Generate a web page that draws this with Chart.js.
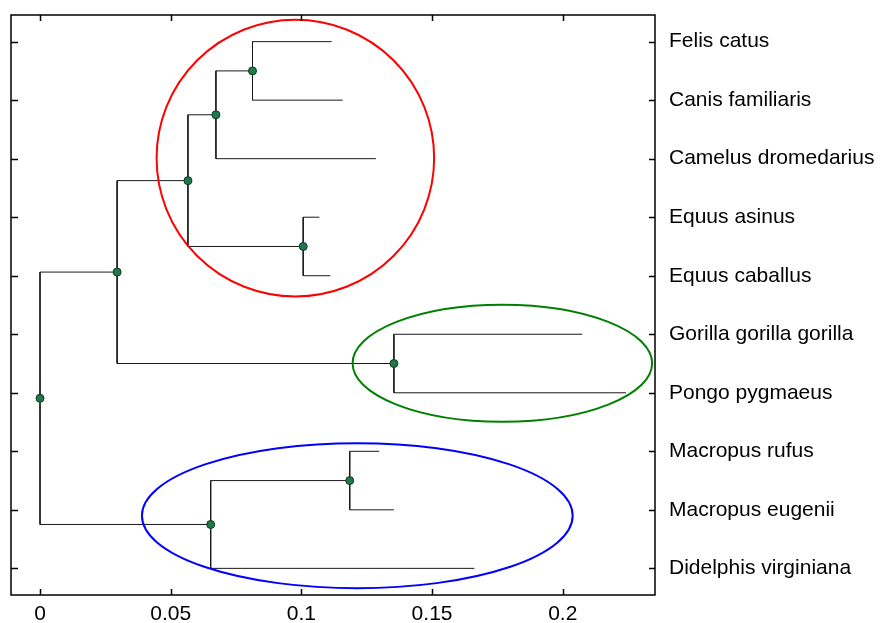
<!DOCTYPE html>
<html>
<head>
<meta charset="utf-8">
<script src="https://cdn.jsdelivr.net/npm/chart.js@4/dist/chart.umd.min.js"></script>
<style>
  html, body { margin: 0; padding: 0; background: #fff; }
  #wrap { width: 883px; height: 623px; }
</style>
</head>
<body>
<div id="wrap"><canvas id="tree"></canvas></div>
<script>
// leaves, top to bottom
const leaves = ['Felis catus', 'Canis familiaris', 'Camelus dromedarius', 'Equus asinus', 'Equus caballus',
  'Gorilla gorilla gorilla', 'Pongo pygmaeus', 'Macropus rufus', 'Macropus eugenii', 'Didelphis virginiana'];
// branch tip distance for each leaf
const leafDepth = [0.1116, 0.1158, 0.1285, 0.1069, 0.1111, 0.2075, 0.2242, 0.1298, 0.1354, 0.1662];

// merges (linkage): node 10 + i joins mergeLeft[i] and mergeRight[i] at mergeDepth[i]
const mergeLeft  = [0, 10, 3, 11, 5, 13, 7, 16, 15];
const mergeRight = [1, 2, 4, 12, 6, 14, 8, 9, 17];
const mergeDepth = [0.0813, 0.0673, 0.1007, 0.0566, 0.1354, 0.0295, 0.1185, 0.0653, 0];

// x axis ticks
const xTicks = [0, 0.05, 0.1, 0.15, 0.2];

// highlighted clades (data units): centre x, centre y, half width, half height
const cladeCx = [0.0977, 0.1769, 0.1214];
const cladeCy = [2.99, 6.496, 9.10];
const cladeRx = [0.0531, 0.0573, 0.0824];
const cladeRy = [2.364, 1.0, 1.239];

const cladeColors = ['#ff0000', '#008000', '#0000ff'];
const FONT = '"Liberation Sans", Arial, sans-serif';

// position of every node (leaves then internal nodes)
const posX = leafDepth.slice();
const posY = leaves.map((_, i) => i + 1);
mergeDepth.forEach((d, i) => {
  posX.push(d);
  posY.push((posY[mergeLeft[i]] + posY[mergeRight[i]]) / 2);
});

// one polyline per merge: child1 -> elbow -> elbow -> child2
const branchSets = mergeDepth.map((d, i) => {
  const a = mergeLeft[i], b = mergeRight[i];
  return {
    data: [
      { x: posX[a], y: posY[a] },
      { x: d, y: posY[a] },
      { x: d, y: posY[b] },
      { x: posX[b], y: posY[b] }
    ],
    showLine: true,
    borderColor: '#1a1a1a',
    borderWidth: 1,
    pointRadius: 0,
    tension: 0,
    order: 2
  };
});

const nodeSet = {
  data: mergeDepth.map((d, i) => ({ x: d, y: posY[10 + i] })),
  pointRadius: 4,
  pointBackgroundColor: '#21784b',
  pointBorderColor: '#103822',
  pointBorderWidth: 1,
  showLine: false,
  order: 1
};

// frame + inward tick marks on all four sides
const framePlugin = {
  id: 'frame',
  afterDraw(chart) {
    const { ctx, chartArea: a, scales } = chart;
    ctx.save();
    ctx.strokeStyle = '#000';
    ctx.lineWidth = 1.5;
    ctx.strokeRect(a.left, a.top, a.right - a.left, a.bottom - a.top);
    ctx.beginPath();
    xTicks.forEach(v => {
      const px = Math.round(scales.x.getPixelForValue(v)) + 0.5;
      ctx.moveTo(px, a.top); ctx.lineTo(px, a.top + 6);
      ctx.moveTo(px, a.bottom); ctx.lineTo(px, a.bottom - 6);
    });
    leaves.forEach((_, i) => {
      const py = Math.round(scales.y.getPixelForValue(i + 1)) + 0.5;
      ctx.moveTo(a.left, py); ctx.lineTo(a.left + 7, py);
      ctx.moveTo(a.right, py); ctx.lineTo(a.right - 6, py);
    });
    ctx.stroke();
    ctx.restore();
  }
};

// ellipses around the clades, placed through the scales
const cladePlugin = {
  id: 'clades',
  afterDatasetsDraw(chart) {
    const { ctx, scales } = chart;
    ctx.save();
    ctx.lineWidth = 2;
    cladeCx.forEach((cx, i) => {
      const px = scales.x.getPixelForValue(cx);
      const py = scales.y.getPixelForValue(cladeCy[i]);
      const rx = Math.abs(scales.x.getPixelForValue(cx + cladeRx[i]) - px);
      const ry = Math.abs(scales.y.getPixelForValue(cladeCy[i] + cladeRy[i]) - py);
      ctx.strokeStyle = cladeColors[i];
      ctx.beginPath();
      ctx.ellipse(px, py, rx, ry, 0, 0, Math.PI * 2);
      ctx.stroke();
    });
    ctx.restore();
  }
};

const ctx = document.getElementById('tree').getContext('2d');
new Chart(ctx, {
  type: 'scatter',
  data: { datasets: [nodeSet, ...branchSets] },
  options: {
    responsive: true,
    maintainAspectRatio: false,
    animation: false,
    layout: { padding: { left: 11, top: 15, right: 0, bottom: 0 } },
    plugins: {
      legend: { display: false },
      tooltip: { enabled: false }
    },
    scales: {
      x: {
        type: 'linear',
        position: 'bottom',
        min: -0.0111,
        max: 0.2353,
        afterBuildTicks: s => { s.ticks = xTicks.map(v => ({ value: v })); },
        afterFit: s => { s.height = 28; s.paddingLeft = 0; s.paddingRight = 0; },
        grid: { display: false, drawTicks: false },
        border: { display: false },
        ticks: {
          color: '#000',
          padding: 7,
          maxRotation: 0,
          font: { family: FONT, size: 21 },
          callback: v => String(+v.toFixed(2))
        }
      },
      y: {
        type: 'linear',
        position: 'right',
        reverse: true,
        min: 0.545,
        max: 10.455,
        afterBuildTicks: s => { s.ticks = leaves.map((_, i) => ({ value: i + 1 })); },
        afterFit: s => { s.width = 228; s.paddingTop = 0; s.paddingBottom = 0; },
        grid: { display: false, drawTicks: false },
        border: { display: false },
        ticks: {
          color: '#000',
          padding: 14,
          font: { family: FONT, size: 21 },
          callback: v => leaves[Math.round(v) - 1]
        }
      }
    }
  },
  plugins: [framePlugin, cladePlugin]
});
</script>
</body>
</html>
